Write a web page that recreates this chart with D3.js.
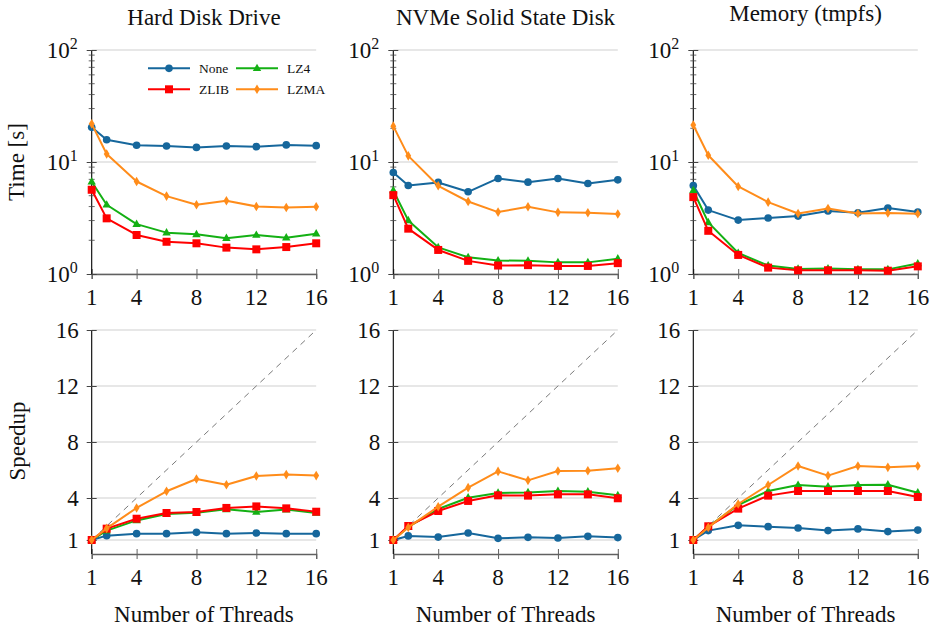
<!DOCTYPE html>
<html>
<head>
<meta charset="utf-8">
<script src="https://cdn.jsdelivr.net/npm/d3@7"></script>
<style>
body { margin: 0; background: #fff; }
svg text { font-family: "Liberation Serif", "Times New Roman", serif !important; fill: #111; }
</style>
</head>
<body>
<svg id="chart" width="936" height="630"></svg>
<script>
// thread counts on the x axis
var threads = [1, 2, 4, 6, 8, 10, 12, 14, 16];
var xTicks = [1, 4, 8, 12, 16];
var speedupTicks = [1, 4, 8, 12, 16];
var timeTicks = [1, 10, 100];
var seriesNames = ["None", "LZ4", "ZLIB", "LZMA"];
var panelTitles = ["Hard Disk Drive", "NVMe Solid State Disk", "Memory (tmpfs)"];

// time [s]
var hddTimeNone = [20.4, 15.8, 14.1, 13.9, 13.5, 13.9, 13.7, 14.2, 14.0];
var hddTimeLz4 = [6.66, 4.15, 2.79, 2.34, 2.26, 2.09, 2.23, 2.11, 2.29];
var hddTimeZlib = [5.65, 3.14, 2.23, 1.94, 1.88, 1.72, 1.66, 1.74, 1.88];
var hddTimeLzma = [21.9, 11.8, 6.7, 4.96, 4.15, 4.51, 4.01, 3.93, 3.98];

var nvmeTimeNone = [8.06, 6.17, 6.57, 5.42, 7.13, 6.61, 7.13, 6.43, 6.93];
var nvmeTimeLz4 = [5.57, 3.01, 1.73, 1.41, 1.32, 1.31, 1.27, 1.27, 1.37];
var nvmeTimeZlib = [5.06, 2.54, 1.64, 1.31, 1.19, 1.20, 1.18, 1.18, 1.25];
var nvmeTimeLzma = [20.9, 11.35, 6.13, 4.44, 3.57, 3.98, 3.55, 3.52, 3.43];

var memTimeNone = [6.17, 3.72, 3.03, 3.16, 3.29, 3.65, 3.52, 3.88, 3.57];
var memTimeLz4 = [5.57, 2.89, 1.54, 1.19, 1.11, 1.12, 1.10, 1.10, 1.24];
var memTimeZlib = [4.86, 2.43, 1.48, 1.14, 1.08, 1.08, 1.08, 1.07, 1.17];
var memTimeLzma = [21.4, 11.5, 6.05, 4.38, 3.47, 3.85, 3.47, 3.50, 3.45];

// speedup
var hddSpeedNone = [1, 1.31, 1.45, 1.45, 1.55, 1.45, 1.5, 1.45, 1.45];
var hddSpeedLz4 = [1, 1.67, 2.40, 2.86, 2.95, 3.19, 3.0, 3.17, 2.93];
var hddSpeedZlib = [1, 1.81, 2.52, 2.93, 3.0, 3.29, 3.40, 3.26, 3.02];
var hddSpeedLzma = [1, 1.83, 3.29, 4.48, 5.36, 4.95, 5.57, 5.67, 5.60];

var nvmeSpeedNone = [1, 1.29, 1.21, 1.5, 1.12, 1.19, 1.14, 1.26, 1.17];
var nvmeSpeedLz4 = [1, 1.93, 3.21, 4.02, 4.36, 4.40, 4.50, 4.45, 4.19];
var nvmeSpeedZlib = [1, 2.0, 3.07, 3.79, 4.19, 4.17, 4.26, 4.26, 3.98];
var nvmeSpeedLzma = [1, 1.90, 3.38, 4.74, 5.90, 5.26, 5.93, 5.95, 6.12];

var memSpeedNone = [1, 1.67, 2.05, 1.95, 1.86, 1.67, 1.79, 1.60, 1.71];
var memSpeedLz4 = [1, 1.95, 3.5, 4.5, 4.93, 4.81, 4.93, 4.95, 4.38];
var memSpeedZlib = [1, 1.98, 3.24, 4.17, 4.5, 4.5, 4.5, 4.5, 4.07];
var memSpeedLzma = [1, 1.90, 3.57, 4.93, 6.29, 5.60, 6.29, 6.19, 6.29];

var timeData = [
    [hddTimeNone, hddTimeLz4, hddTimeZlib, hddTimeLzma],
    [nvmeTimeNone, nvmeTimeLz4, nvmeTimeZlib, nvmeTimeLzma],
    [memTimeNone, memTimeLz4, memTimeZlib, memTimeLzma]
];
var speedData = [
    [hddSpeedNone, hddSpeedLz4, hddSpeedZlib, hddSpeedLzma],
    [nvmeSpeedNone, nvmeSpeedLz4, nvmeSpeedZlib, nvmeSpeedLzma],
    [memSpeedNone, memSpeedLz4, memSpeedZlib, memSpeedLzma]
];

var colors = { None: "#16679c", LZ4: "#14b014", ZLIB: "#ff0000", LZMA: "#ff8c1a" };
var serif = "'Liberation Serif', 'Times New Roman', serif";

var svg = d3.select("#chart");
var colLeft = [91.7, 393.3, 693.3];
var panelW = 224.5;

function markerPath(name) {
    if (name === "None") {
        return d3.symbol().type(d3.symbolCircle).size(46)();
    } else if (name === "ZLIB") {
        return "M-4,-4H4V4H-4Z";
    } else if (name === "LZ4") {
        return "M0,-4.6L4.2,2.8H-4.2Z";
    }
    return "M0,-4.8L2.9,0L0,4.8L-2.9,0Z";
}

function drawMarker(g, name, x, y) {
    g.append("path")
        .attr("d", markerPath(name))
        .attr("transform", "translate(" + x + "," + y + ")")
        .attr("fill", colors[name]);
}

function label(g, x, y, size, str) {
    return g.append("text")
        .attr("x", x).attr("y", y)
        .attr("font-family", serif)
        .style("font-family", serif)
        .style("font-size", size + "px")
        .text(str);
}

function drawPanel(col, isTime) {
    var x0 = colLeft[col];
    var top = isTime ? 50 : 330;
    var bottom = isTime ? 274 : 554;
    var g = svg.append("g");
    var xScale = d3.scaleLinear().domain([1, 16]).range([x0, x0 + panelW]);
    var yScale = isTime
        ? d3.scaleLog().domain([1, 100]).range([bottom, top])
        : d3.scaleLinear().domain([0, 16]).range([bottom, top]);
    var majors = isTime ? timeTicks : speedupTicks;

    // grid
    g.selectAll("line.grid").data(majors).enter().append("line")
        .attr("x1", x0).attr("x2", x0 + panelW)
        .attr("y1", function (d) { return yScale(d); })
        .attr("y2", function (d) { return yScale(d); })
        .attr("stroke", "#cfcfcf").attr("stroke-width", 1);

    if (!isTime) {
        g.append("line")
            .attr("x1", xScale(1)).attr("y1", yScale(1))
            .attr("x2", xScale(16)).attr("y2", yScale(16))
            .attr("stroke", "#7a7a7a").attr("stroke-width", 1)
            .attr("stroke-dasharray", "6,5");
    }

    // x axis (ticks drawn, labels added separately)
    var xAxis = g.append("g")
        .attr("transform", "translate(0," + bottom + ")")
        .call(d3.axisBottom(xScale).tickValues(xTicks).tickSize(5).tickFormat(""));
    xAxis.select(".domain").attr("stroke", "#606060").attr("stroke-width", 1.3);
    xAxis.selectAll(".tick line").attr("y1", -5).attr("y2", 5).attr("stroke", "#606060");
    xTicks.forEach(function (d) {
        label(g, xScale(d), bottom + 31, 23, d).attr("text-anchor", "middle");
    });

    // y axis
    var yAxis = g.append("g")
        .attr("transform", "translate(" + x0 + ",0)")
        .call(d3.axisLeft(yScale).tickValues(majors).tickSize(5).tickFormat(""));
    yAxis.select(".domain").attr("d", "M0," + bottom + "V" + top).attr("stroke", "#000").attr("stroke-width", 1.1);
    yAxis.selectAll(".tick line").attr("x1", -5).attr("x2", 5).attr("stroke", "#444");

    if (isTime) {
        var minors = [];
        [1, 10].forEach(function (dec) {
            for (var k = 2; k <= 9; k++) minors.push(dec * k);
        });
        g.selectAll("line.minor").data(minors).enter().append("line")
            .attr("x1", x0 - 3).attr("x2", x0 + 3)
            .attr("y1", function (d) { return yScale(d); })
            .attr("y2", function (d) { return yScale(d); })
            .attr("stroke", "#444").attr("stroke-width", 0.8);
        timeTicks.forEach(function (d) {
            var t = label(g, x0 - 14, yScale(d) + 8, 23, null).attr("text-anchor", "end");
            t.append("tspan").text("10");
            t.append("tspan").attr("dy", -9).style("font-size", "16px").text(String(Math.round(Math.log10(d))));
        });
    } else {
        speedupTicks.forEach(function (d) {
            label(g, x0 - 13, yScale(d) + 8, 23, d).attr("text-anchor", "end");
        });
    }

    // series, drawn None, LZ4, ZLIB, LZMA
    var data = isTime ? timeData[col] : speedData[col];
    var line = d3.line()
        .x(function (d, i) { return xScale(threads[i]); })
        .y(function (d) { return yScale(d); });
    seriesNames.forEach(function (name, si) {
        var vals = data[si];
        g.append("path")
            .attr("d", line(vals))
            .attr("fill", "none")
            .attr("stroke", colors[name])
            .attr("stroke-width", 2)
            .attr("stroke-linejoin", "round");
        vals.forEach(function (v, i) {
            drawMarker(g, name, xScale(threads[i]), yScale(v));
        });
    });
}

for (var c = 0; c < 3; c++) {
    drawPanel(c, true);
    drawPanel(c, false);
    label(svg, colLeft[c] + panelW / 2, c === 2 ? 21 : 25, 23, panelTitles[c]).attr("text-anchor", "middle");
    label(svg, colLeft[c] + panelW / 2, 622, 23, "Number of Threads").attr("text-anchor", "middle");
}

label(svg, 0, 0, 23, "Time [s]")
    .attr("transform", "translate(24,162) rotate(-90)")
    .attr("text-anchor", "middle");
label(svg, 0, 0, 23, "Speedup")
    .attr("transform", "translate(25,441) rotate(-90)")
    .attr("text-anchor", "middle");

// legend (two columns: None, LZ4 / ZLIB, LZMA)
var legendPos = [[148, 68.3], [236, 68.3], [148, 89.3], [236, 89.3]];
var legend = svg.append("g");
seriesNames.forEach(function (name, i) {
    var p = legendPos[i];
    legend.append("line")
        .attr("x1", p[0]).attr("x2", p[0] + 42)
        .attr("y1", p[1]).attr("y2", p[1])
        .attr("stroke", colors[name]).attr("stroke-width", 2);
    drawMarker(legend, name, p[0] + 21, p[1]);
    label(legend, p[0] + 51, p[1] + 4.5, 13.5, name);
});
</script>
</body>
</html>
